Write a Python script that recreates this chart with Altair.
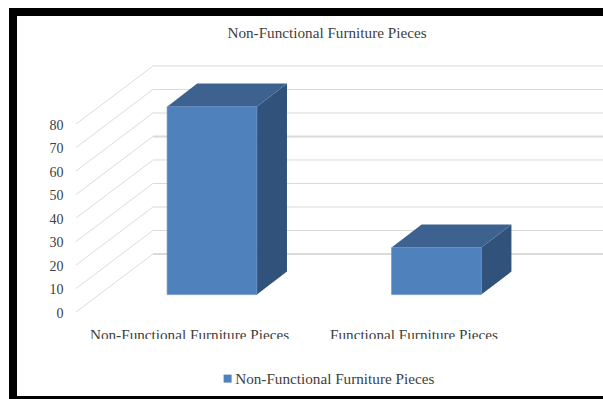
import altair as alt
import pandas as pd

# Chart values
categories = ["Non-Functional Furniture Pieces", "Functional Furniture Pieces"]
series_name = "Non-Functional Furniture Pieces"
values = [80, 20]
ticks = [0, 10, 20, 30, 40, 50, 60, 70, 80]
heavy_ticks = [0, 50]

# Oblique projection constants, in scale units
BAR_HALF = 0.2
FLOOR_LIFT = 7.4      # height of the bar base above the front floor edge
BAR_DX, BAR_DY = 0.134, 9.8      # depth of a bar
WALL_DX, WALL_DY = 0.343, 24.7   # depth of the floor

X_DOMAIN = [-0.606, 1.742]
Y_DOMAIN = [0, 104.7]
x_scale = alt.Scale(domain=X_DOMAIN, nice=False, zero=False)
y_scale = alt.Scale(domain=Y_DOMAIN, nice=False, zero=False)

TEXT = "#404040"
FONT = "Liberation Serif"

# One axis definition shared by every layer, so merged axes keep all their labels
x_axis = alt.Axis(
    values=[0, 1],
    labelExpr=f"datum.value == 0 ? '{categories[0]}' : '{categories[1]}'",
    title=None,
    domain=False,
    ticks=False,
    grid=False,
    labelFont=FONT,
    labelFontSize=15.2,
    labelColor=TEXT,
    labelPadding=15,
    labelOffset=-23,
    labelLimit=400,
    labelOverlap=False,
)
y_axis = alt.Axis(
    values=ticks,
    title=None,
    domain=False,
    ticks=False,
    grid=False,
    labelFont=FONT,
    labelFontSize=14,
    labelColor=TEXT,
    labelPadding=13,
    labelOverlap=False,
    labelOffset=1,
)


def qx(field):
    return alt.X(field, scale=x_scale, axis=x_axis)


def qy(field):
    return alt.Y(field, scale=y_scale, axis=y_axis)


front_rows, side_rows, top_rows = [], [], []
for i, (c, v) in enumerate(zip(categories, values)):
    left, right = i - BAR_HALF, i + BAR_HALF
    base, top = FLOOR_LIFT, FLOOR_LIFT + v
    front_rows.append(dict(x=left, x2=right, y=base, y2=top, series=series_name))
    side_rows += [
        dict(bar=c, x=right, y=base, y2=top),
        dict(bar=c, x=right + BAR_DX, y=base + BAR_DY, y2=top + BAR_DY),
    ]
    top_rows += [
        dict(bar=c, y=top, x=left, x2=right),
        dict(bar=c, y=top + BAR_DY, x=left + BAR_DX, x2=right + BAR_DX),
    ]

grid = pd.DataFrame(
    [
        dict(
            x=X_DOMAIN[0],
            xb=X_DOMAIN[0] + WALL_DX,
            xe=X_DOMAIN[1],
            y=t,
            yb=t + WALL_DY,
            w=2 if t in heavy_ticks else 1,
        )
        for t in ticks
    ]
)

# Floor edges receding from the value labels to the back wall
diagonals = (
    alt.Chart(grid)
    .mark_rule(color="#dcdcdc", strokeWidth=1)
    .encode(x=qx("x:Q"), x2="xb:Q", y=qy("y:Q"), y2="yb:Q")
)

# Back wall gridlines
wall = (
    alt.Chart(grid)
    .mark_rule(color="#dadada")
    .encode(
        x=qx("xb:Q"),
        x2="xe:Q",
        y=qy("yb:Q"),
        strokeWidth=alt.StrokeWidth("w:Q", scale=None),
    )
)

side = (
    alt.Chart(pd.DataFrame(side_rows))
    .mark_area(color="#31527B", orient="vertical")
    .encode(x=qx("x:Q"), y=qy("y:Q"), y2="y2:Q", detail="bar:N")
)

top_face = (
    alt.Chart(pd.DataFrame(top_rows))
    .mark_area(color="#3D6290", orient="horizontal")
    .encode(y=qy("y:Q"), x=qx("x:Q"), x2="x2:Q", detail="bar:N")
)

front = (
    alt.Chart(pd.DataFrame(front_rows))
    .mark_rect(stroke="#5F8DC4", strokeWidth=0.6)
    .encode(
        x=qx("x:Q"),
        x2="x2:Q",
        y=qy("y:Q"),
        y2="y2:Q",
        color=alt.Color(
            "series:N",
            scale=alt.Scale(domain=[series_name], range=["#4F81BD"]),
            legend=alt.Legend(
                title=None,
                orient="none",
                legendX=144,
                legendY=305,
                symbolType="square",
                symbolSize=64,
                symbolStrokeWidth=0,
                labelFont=FONT,
                labelFontSize=15.2,
                labelColor=TEXT,
                labelOffset=0,
                labelLimit=400,
            ),
        ),
    )
)

# Page furniture: black frame and the strip that trims the category labels
def band(x, x2, y, y2, color):
    return alt.Chart(pd.DataFrame({"a": [0]})).mark_rect(color=color, clip=False).encode(
        x=alt.value(x), x2=alt.value(x2), y=alt.value(y), y2=alt.value(y2)
    )

frame_left = band(-67, -59, -58, 333, "black")
frame_top = band(-67, 527, -58, -50, "black")
frame_bottom = band(-67, 527, 330, 333, "black")
label_trim = band(-20, 440, 273, 280, "white")

chart = (
    alt.layer(
        diagonals, wall, side, top_face, front,
        label_trim, frame_left, frame_top, frame_bottom,
    )
    .resolve_scale(color="independent")
    .properties(
        width=527,
        height=246,
        padding={"left": 76, "top": 66, "right": 0, "bottom": 87},
        autosize=alt.AutoSizeParams(type="none"),
        background="white",
        title=alt.TitleParams(
            "Non-Functional Furniture Pieces",
            font=FONT,
            fontSize=15.2,
            fontWeight="normal",
            color=TEXT,
            anchor="middle",
            dx=-12.5,
            offset=-33,
        ),
    )
    .configure_view(stroke=None)
    .configure_axis(labelOverlap=False)
)

chart.save("out.html", embed_options={"renderer": "svg", "actions": False})
